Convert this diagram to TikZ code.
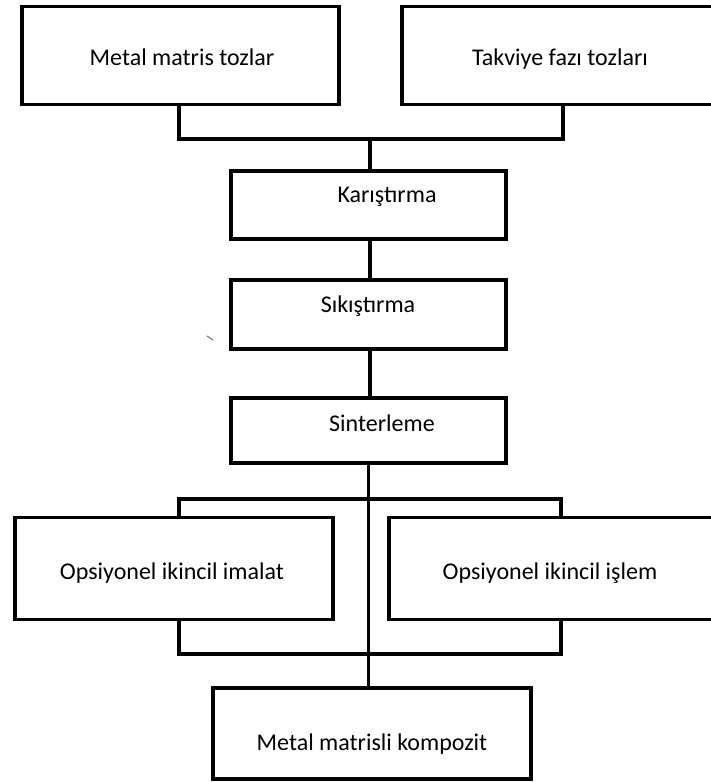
\documentclass[tikz,border=0pt]{standalone}
\usepackage{fontspec}
\setmainfont{Carlito}
\begin{document}
\begin{tikzpicture}[x=1pt,y=-1pt,
  box/.style={draw,line width=3.8pt,rectangle,inner sep=0pt,outer sep=0pt},
  lbl/.style={font=\fontsize{24}{28}\selectfont,inner sep=0pt,anchor=base},
  wire/.style={line width=3.8pt}]
\useasboundingbox (0,0) rectangle (711,782);
% boxes
\node[box,minimum width=317pt,minimum height=98pt] (b1) at (180.5,55.5) {};
\node[box,minimum width=313pt,minimum height=98pt] (b2) at (558.5,55.5) {};
\node[box,minimum width=275pt,minimum height=68pt] (k) at (368.5,205) {};
\node[box,minimum width=275pt,minimum height=69pt] (s) at (368.5,314.5) {};
\node[box,minimum width=275pt,minimum height=65pt] (sn) at (368.5,430.5) {};
\node[box,minimum width=318pt,minimum height=102pt] (o1) at (174,568.5) {};
\node[box,minimum width=326pt,minimum height=102pt] (o2) at (552,568.5) {};
\node[box,minimum width=318pt,minimum height=91pt] (m) at (372,733.5) {};
% labels
\node[lbl] (t1) at (182,65) {Metal matris tozlar};
\node[lbl] (t2) at (560,65) {Takviye fazı tozları};
\node[lbl] (tk) at (387,202) {Karıştırma};
\node[lbl] (ts) at (368,312) {Sıkıştırma};
\node[lbl] (tsn) at (382,431) {Sinterleme};
\node[lbl] (to1) at (172,579) {Opsiyonel ikincil imalat};
\node[lbl] (to2) at (550,579) {Opsiyonel ikincil işlem};
\node[lbl] (tm) at (372,750) {Metal matrisli kompozit};
% connectors
\coordinate (j1) at (370,139);
\draw[wire] (179,0 |- b1.south) |- (j1) -| (563,0 |- b2.south);
\draw[wire] (j1) -- (370,0 |- k.north);
\draw[wire] (370,0 |- k.south) -- (370,0 |- s.north);
\draw[wire] (370,0 |- s.south) -- (370,0 |- sn.north);
\draw[wire] (368.5,0 |- sn.south) -- (368.5,0 |- m.north);
\draw[wire] (179,0 |- o1.north) |- (561,499) -- (561,0 |- o2.north);
\draw[wire] (179,0 |- o1.south) |- (561,654) -- (561,0 |- o2.south);
% stray mark
\draw[gray,line width=1.2pt,line cap=round] (207,336) -- (213,340);
\end{tikzpicture}
\end{document}
